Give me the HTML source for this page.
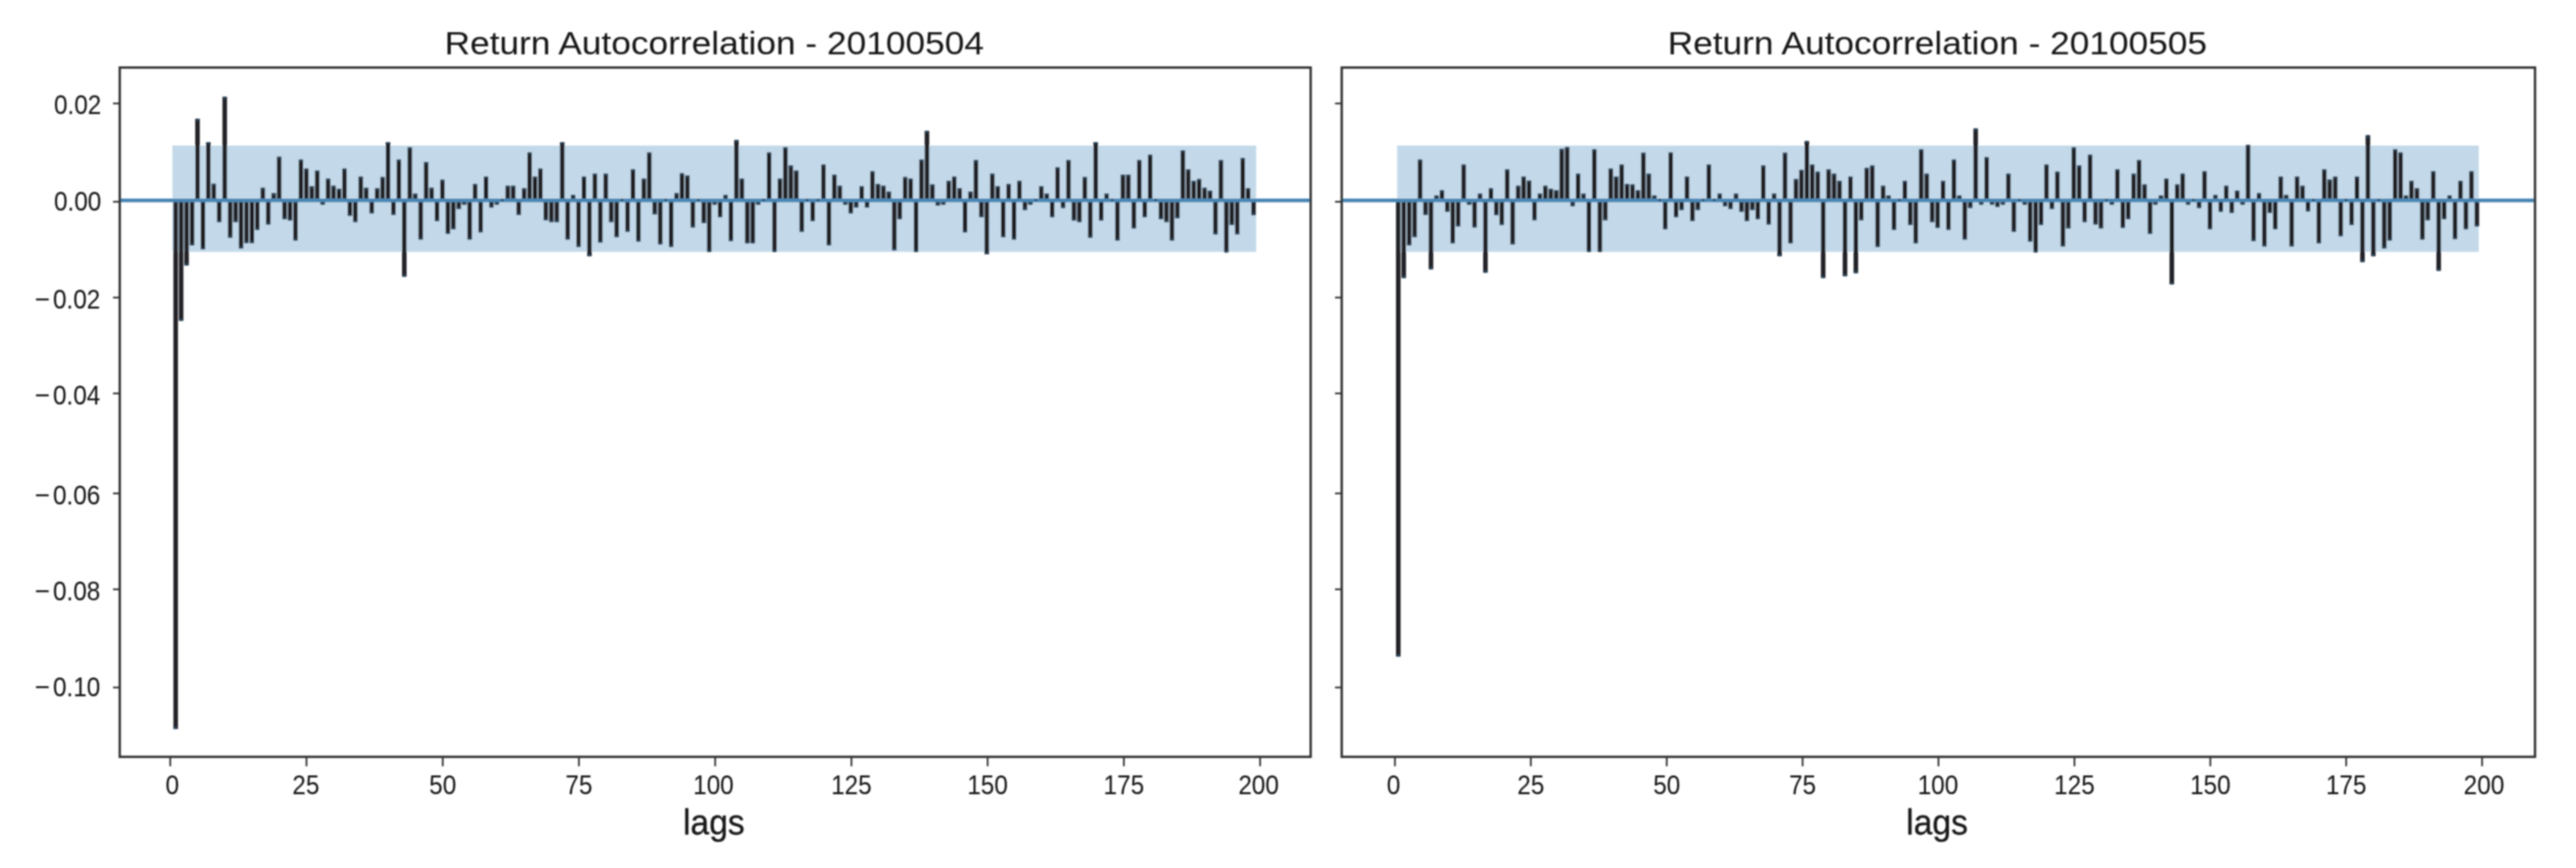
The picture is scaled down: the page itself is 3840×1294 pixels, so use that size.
<!DOCTYPE html><html><head><meta charset="utf-8"><style>html,body{margin:0;padding:0;background:#fff;}svg{display:block;}</style></head><body>
<svg width="3840" height="1294" viewBox="0 0 3840 1294" font-family='"Liberation Sans", sans-serif'>
<rect x="0" y="0" width="3840" height="1294" fill="#fff"/>
<defs><filter id="bl" x="-1%" y="-1%" width="102%" height="102%"><feGaussianBlur stdDeviation="1.2"/></filter></defs>
<g filter="url(#bl)">
<rect x="257.0" y="217.0" width="1615.5" height="158.5" fill="#c3d9ea"/>
<path d="M261.9 298.7V1086.7M270.0 298.7V478.3M278.1 298.7V395.7M286.3 298.7V366.0M294.4 298.7V176.9M302.5 298.7V371.8M310.6 298.7V211.9M318.7 298.7V273.7M326.8 298.7V331.3M335.0 298.7V144.3M343.1 298.7V354.4M351.2 298.7V331.3M359.3 298.7V370.4M367.4 298.7V362.4M375.5 298.7V362.4M383.6 298.7V342.9M391.8 298.7V279.7M399.9 298.7V334.9M408.0 298.7V287.7M416.1 298.7V233.4M424.2 298.7V326.9M432.3 298.7V329.1M440.4 298.7V358.8M448.6 298.7V237.7M456.7 298.7V251.1M464.8 298.7V277.6M472.9 298.7V254.0M481.0 298.7V305.2M489.1 298.7V266.0M497.2 298.7V276.8M505.4 298.7V281.2M513.5 298.7V251.1M521.6 298.7V321.9M529.7 298.7V331.3M537.8 298.7V263.1M545.9 298.7V279.7M554.1 298.7V318.2M562.2 298.7V280.5M570.3 298.7V263.8M578.4 298.7V211.9M586.5 298.7V320.4M594.6 298.7V237.7M602.7 298.7V412.4M610.9 298.7V219.6M619.0 298.7V288.4M627.1 298.7V357.3M635.2 298.7V241.4M643.3 298.7V279.7M651.4 298.7V329.8M659.5 298.7V267.8M667.7 298.7V348.7M675.8 298.7V342.1M683.9 298.7V311.7M692.0 298.7V305.2M700.1 298.7V357.3M708.2 298.7V273.9M716.4 298.7V346.5M724.5 298.7V263.1M732.6 298.7V309.5M740.7 298.7V305.2M748.8 298.7V296.4M756.9 298.7V276.8M765.0 298.7V276.8M773.2 298.7V320.4M781.3 298.7V280.5M789.4 298.7V226.9M797.5 298.7V263.1M805.6 298.7V251.1M813.7 298.7V328.4M821.9 298.7V331.3M830.0 298.7V331.3M838.1 298.7V211.9M846.2 298.7V357.3M854.3 298.7V290.6M862.4 298.7V368.2M870.5 298.7V263.1M878.7 298.7V382.0M886.8 298.7V258.7M894.9 298.7V361.7M903.0 298.7V258.7M911.1 298.7V331.3M919.2 298.7V353.7M927.3 298.7V296.4M935.5 298.7V345.8M943.6 298.7V252.2M951.7 298.7V360.2M959.8 298.7V266.0M967.9 298.7V226.9M976.0 298.7V319.7M984.2 298.7V364.6M992.3 298.7V296.4M1000.4 298.7V368.2M1008.5 298.7V287.7M1016.6 298.7V258.0M1024.7 298.7V261.6M1032.8 298.7V339.2M1041.0 298.7V296.4M1049.1 298.7V332.7M1057.2 298.7V375.5M1065.3 298.7V305.2M1073.4 298.7V324.0M1081.5 298.7V290.6M1089.6 298.7V359.5M1097.8 298.7V208.8M1105.9 298.7V266.0M1114.0 298.7V363.1M1122.1 298.7V363.1M1130.2 298.7V305.2M1138.3 298.7V296.4M1146.5 298.7V226.9M1154.6 298.7V375.5M1162.7 298.7V266.0M1170.8 298.7V219.6M1178.9 298.7V246.4M1187.0 298.7V254.0M1195.1 298.7V345.8M1203.3 298.7V296.4M1211.4 298.7V329.8M1219.5 298.7V296.4M1227.6 298.7V245.0M1235.7 298.7V366.0M1243.8 298.7V260.2M1251.9 298.7V276.8M1260.1 298.7V305.2M1268.2 298.7V318.2M1276.3 298.7V309.5M1284.4 298.7V277.6M1292.5 298.7V309.5M1300.6 298.7V255.1M1308.8 298.7V273.9M1316.9 298.7V276.8M1325.0 298.7V285.5M1333.1 298.7V373.3M1341.2 298.7V326.9M1349.3 298.7V263.8M1357.4 298.7V266.0M1365.6 298.7V375.5M1373.7 298.7V237.7M1381.8 298.7V195.0M1389.9 298.7V274.7M1398.0 298.7V306.6M1406.1 298.7V305.2M1414.2 298.7V269.6M1422.4 298.7V263.1M1430.5 298.7V280.5M1438.6 298.7V346.5M1446.7 298.7V285.5M1454.8 298.7V238.5M1462.9 298.7V324.0M1471.0 298.7V379.1M1479.2 298.7V258.7M1487.3 298.7V277.6M1495.4 298.7V353.7M1503.5 298.7V273.9M1511.6 298.7V357.3M1519.7 298.7V269.6M1527.9 298.7V313.2M1536.0 298.7V305.2M1544.1 298.7V296.4M1552.2 298.7V277.6M1560.3 298.7V288.4M1568.4 298.7V324.0M1576.5 298.7V249.3M1584.7 298.7V310.3M1592.8 298.7V238.5M1600.9 298.7V329.1M1609.0 298.7V331.3M1617.1 298.7V263.8M1625.2 298.7V354.4M1633.3 298.7V211.9M1641.5 298.7V329.1M1649.6 298.7V288.4M1657.7 298.7V296.4M1665.8 298.7V358.8M1673.9 298.7V260.2M1682.0 298.7V260.2M1690.2 298.7V340.7M1698.3 298.7V238.5M1706.4 298.7V324.0M1714.5 298.7V230.5M1722.6 298.7V296.4M1730.7 298.7V326.9M1738.8 298.7V331.3M1747.0 298.7V358.8M1755.1 298.7V325.5M1763.2 298.7V224.0M1771.3 298.7V252.2M1779.4 298.7V269.6M1787.5 298.7V266.7M1795.7 298.7V279.7M1803.8 298.7V284.1M1811.9 298.7V349.4M1820.0 298.7V238.5M1828.1 298.7V376.2M1836.2 298.7V335.6M1844.3 298.7V349.4M1852.5 298.7V235.6M1860.6 298.7V280.5M1868.7 298.7V321.1" stroke="#202428" stroke-width="6.8" fill="none"/>
<line x1="178.5" y1="298.7" x2="1953.8" y2="298.7" stroke="#4a86b4" stroke-width="5.5"/>
<g fill="#2a4a62"><circle cx="261.9" cy="1085.2" r="2.0"/><circle cx="270.0" cy="476.8" r="2.0"/><circle cx="278.1" cy="394.2" r="2.0"/><circle cx="286.3" cy="364.5" r="2.0"/><circle cx="294.4" cy="178.4" r="2.0"/><circle cx="302.5" cy="370.3" r="2.0"/><circle cx="310.6" cy="213.4" r="2.0"/><circle cx="318.7" cy="275.2" r="2.0"/><circle cx="326.8" cy="329.8" r="2.0"/><circle cx="335.0" cy="145.8" r="2.0"/><circle cx="343.1" cy="352.9" r="2.0"/><circle cx="351.2" cy="329.8" r="2.0"/><circle cx="359.3" cy="368.9" r="2.0"/><circle cx="367.4" cy="360.9" r="2.0"/><circle cx="375.5" cy="360.9" r="2.0"/><circle cx="383.6" cy="341.4" r="2.0"/><circle cx="391.8" cy="281.2" r="2.0"/><circle cx="399.9" cy="333.4" r="2.0"/><circle cx="408.0" cy="289.2" r="2.0"/><circle cx="416.1" cy="234.9" r="2.0"/><circle cx="424.2" cy="325.4" r="2.0"/><circle cx="432.3" cy="327.6" r="2.0"/><circle cx="440.4" cy="357.3" r="2.0"/><circle cx="448.6" cy="239.2" r="2.0"/><circle cx="456.7" cy="252.6" r="2.0"/><circle cx="464.8" cy="279.1" r="2.0"/><circle cx="472.9" cy="255.5" r="2.0"/><circle cx="481.0" cy="303.7" r="2.0"/><circle cx="489.1" cy="267.5" r="2.0"/><circle cx="497.2" cy="278.3" r="2.0"/><circle cx="505.4" cy="282.7" r="2.0"/><circle cx="513.5" cy="252.6" r="2.0"/><circle cx="521.6" cy="320.4" r="2.0"/><circle cx="529.7" cy="329.8" r="2.0"/><circle cx="537.8" cy="264.6" r="2.0"/><circle cx="545.9" cy="281.2" r="2.0"/><circle cx="554.1" cy="316.7" r="2.0"/><circle cx="562.2" cy="282.0" r="2.0"/><circle cx="570.3" cy="265.3" r="2.0"/><circle cx="578.4" cy="213.4" r="2.0"/><circle cx="586.5" cy="318.9" r="2.0"/><circle cx="594.6" cy="239.2" r="2.0"/><circle cx="602.7" cy="410.9" r="2.0"/><circle cx="610.9" cy="221.1" r="2.0"/><circle cx="619.0" cy="289.9" r="2.0"/><circle cx="627.1" cy="355.8" r="2.0"/><circle cx="635.2" cy="242.9" r="2.0"/><circle cx="643.3" cy="281.2" r="2.0"/><circle cx="651.4" cy="328.3" r="2.0"/><circle cx="659.5" cy="269.3" r="2.0"/><circle cx="667.7" cy="347.2" r="2.0"/><circle cx="675.8" cy="340.6" r="2.0"/><circle cx="683.9" cy="310.2" r="2.0"/><circle cx="692.0" cy="303.7" r="2.0"/><circle cx="700.1" cy="355.8" r="2.0"/><circle cx="708.2" cy="275.4" r="2.0"/><circle cx="716.4" cy="345.0" r="2.0"/><circle cx="724.5" cy="264.6" r="2.0"/><circle cx="732.6" cy="308.0" r="2.0"/><circle cx="740.7" cy="303.7" r="2.0"/><circle cx="748.8" cy="297.9" r="2.0"/><circle cx="756.9" cy="278.3" r="2.0"/><circle cx="765.0" cy="278.3" r="2.0"/><circle cx="773.2" cy="318.9" r="2.0"/><circle cx="781.3" cy="282.0" r="2.0"/><circle cx="789.4" cy="228.4" r="2.0"/><circle cx="797.5" cy="264.6" r="2.0"/><circle cx="805.6" cy="252.6" r="2.0"/><circle cx="813.7" cy="326.9" r="2.0"/><circle cx="821.9" cy="329.8" r="2.0"/><circle cx="830.0" cy="329.8" r="2.0"/><circle cx="838.1" cy="213.4" r="2.0"/><circle cx="846.2" cy="355.8" r="2.0"/><circle cx="854.3" cy="292.1" r="2.0"/><circle cx="862.4" cy="366.7" r="2.0"/><circle cx="870.5" cy="264.6" r="2.0"/><circle cx="878.7" cy="380.5" r="2.0"/><circle cx="886.8" cy="260.2" r="2.0"/><circle cx="894.9" cy="360.2" r="2.0"/><circle cx="903.0" cy="260.2" r="2.0"/><circle cx="911.1" cy="329.8" r="2.0"/><circle cx="919.2" cy="352.2" r="2.0"/><circle cx="927.3" cy="297.9" r="2.0"/><circle cx="935.5" cy="344.3" r="2.0"/><circle cx="943.6" cy="253.7" r="2.0"/><circle cx="951.7" cy="358.7" r="2.0"/><circle cx="959.8" cy="267.5" r="2.0"/><circle cx="967.9" cy="228.4" r="2.0"/><circle cx="976.0" cy="318.2" r="2.0"/><circle cx="984.2" cy="363.1" r="2.0"/><circle cx="992.3" cy="297.9" r="2.0"/><circle cx="1000.4" cy="366.7" r="2.0"/><circle cx="1008.5" cy="289.2" r="2.0"/><circle cx="1016.6" cy="259.5" r="2.0"/><circle cx="1024.7" cy="263.1" r="2.0"/><circle cx="1032.8" cy="337.7" r="2.0"/><circle cx="1041.0" cy="297.9" r="2.0"/><circle cx="1049.1" cy="331.2" r="2.0"/><circle cx="1057.2" cy="374.0" r="2.0"/><circle cx="1065.3" cy="303.7" r="2.0"/><circle cx="1073.4" cy="322.5" r="2.0"/><circle cx="1081.5" cy="292.1" r="2.0"/><circle cx="1089.6" cy="358.0" r="2.0"/><circle cx="1097.8" cy="210.3" r="2.0"/><circle cx="1105.9" cy="267.5" r="2.0"/><circle cx="1114.0" cy="361.6" r="2.0"/><circle cx="1122.1" cy="361.6" r="2.0"/><circle cx="1130.2" cy="303.7" r="2.0"/><circle cx="1138.3" cy="297.9" r="2.0"/><circle cx="1146.5" cy="228.4" r="2.0"/><circle cx="1154.6" cy="374.0" r="2.0"/><circle cx="1162.7" cy="267.5" r="2.0"/><circle cx="1170.8" cy="221.1" r="2.0"/><circle cx="1178.9" cy="247.9" r="2.0"/><circle cx="1187.0" cy="255.5" r="2.0"/><circle cx="1195.1" cy="344.3" r="2.0"/><circle cx="1203.3" cy="297.9" r="2.0"/><circle cx="1211.4" cy="328.3" r="2.0"/><circle cx="1219.5" cy="297.9" r="2.0"/><circle cx="1227.6" cy="246.5" r="2.0"/><circle cx="1235.7" cy="364.5" r="2.0"/><circle cx="1243.8" cy="261.7" r="2.0"/><circle cx="1251.9" cy="278.3" r="2.0"/><circle cx="1260.1" cy="303.7" r="2.0"/><circle cx="1268.2" cy="316.7" r="2.0"/><circle cx="1276.3" cy="308.0" r="2.0"/><circle cx="1284.4" cy="279.1" r="2.0"/><circle cx="1292.5" cy="308.0" r="2.0"/><circle cx="1300.6" cy="256.6" r="2.0"/><circle cx="1308.8" cy="275.4" r="2.0"/><circle cx="1316.9" cy="278.3" r="2.0"/><circle cx="1325.0" cy="287.0" r="2.0"/><circle cx="1333.1" cy="371.8" r="2.0"/><circle cx="1341.2" cy="325.4" r="2.0"/><circle cx="1349.3" cy="265.3" r="2.0"/><circle cx="1357.4" cy="267.5" r="2.0"/><circle cx="1365.6" cy="374.0" r="2.0"/><circle cx="1373.7" cy="239.2" r="2.0"/><circle cx="1381.8" cy="196.5" r="2.0"/><circle cx="1389.9" cy="276.2" r="2.0"/><circle cx="1398.0" cy="305.1" r="2.0"/><circle cx="1406.1" cy="303.7" r="2.0"/><circle cx="1414.2" cy="271.1" r="2.0"/><circle cx="1422.4" cy="264.6" r="2.0"/><circle cx="1430.5" cy="282.0" r="2.0"/><circle cx="1438.6" cy="345.0" r="2.0"/><circle cx="1446.7" cy="287.0" r="2.0"/><circle cx="1454.8" cy="240.0" r="2.0"/><circle cx="1462.9" cy="322.5" r="2.0"/><circle cx="1471.0" cy="377.6" r="2.0"/><circle cx="1479.2" cy="260.2" r="2.0"/><circle cx="1487.3" cy="279.1" r="2.0"/><circle cx="1495.4" cy="352.2" r="2.0"/><circle cx="1503.5" cy="275.4" r="2.0"/><circle cx="1511.6" cy="355.8" r="2.0"/><circle cx="1519.7" cy="271.1" r="2.0"/><circle cx="1527.9" cy="311.7" r="2.0"/><circle cx="1536.0" cy="303.7" r="2.0"/><circle cx="1544.1" cy="297.9" r="2.0"/><circle cx="1552.2" cy="279.1" r="2.0"/><circle cx="1560.3" cy="289.9" r="2.0"/><circle cx="1568.4" cy="322.5" r="2.0"/><circle cx="1576.5" cy="250.8" r="2.0"/><circle cx="1584.7" cy="308.8" r="2.0"/><circle cx="1592.8" cy="240.0" r="2.0"/><circle cx="1600.9" cy="327.6" r="2.0"/><circle cx="1609.0" cy="329.8" r="2.0"/><circle cx="1617.1" cy="265.3" r="2.0"/><circle cx="1625.2" cy="352.9" r="2.0"/><circle cx="1633.3" cy="213.4" r="2.0"/><circle cx="1641.5" cy="327.6" r="2.0"/><circle cx="1649.6" cy="289.9" r="2.0"/><circle cx="1657.7" cy="297.9" r="2.0"/><circle cx="1665.8" cy="357.3" r="2.0"/><circle cx="1673.9" cy="261.7" r="2.0"/><circle cx="1682.0" cy="261.7" r="2.0"/><circle cx="1690.2" cy="339.2" r="2.0"/><circle cx="1698.3" cy="240.0" r="2.0"/><circle cx="1706.4" cy="322.5" r="2.0"/><circle cx="1714.5" cy="232.0" r="2.0"/><circle cx="1722.6" cy="297.9" r="2.0"/><circle cx="1730.7" cy="325.4" r="2.0"/><circle cx="1738.8" cy="329.8" r="2.0"/><circle cx="1747.0" cy="357.3" r="2.0"/><circle cx="1755.1" cy="324.0" r="2.0"/><circle cx="1763.2" cy="225.5" r="2.0"/><circle cx="1771.3" cy="253.7" r="2.0"/><circle cx="1779.4" cy="271.1" r="2.0"/><circle cx="1787.5" cy="268.2" r="2.0"/><circle cx="1795.7" cy="281.2" r="2.0"/><circle cx="1803.8" cy="285.6" r="2.0"/><circle cx="1811.9" cy="347.9" r="2.0"/><circle cx="1820.0" cy="240.0" r="2.0"/><circle cx="1828.1" cy="374.7" r="2.0"/><circle cx="1836.2" cy="334.1" r="2.0"/><circle cx="1844.3" cy="347.9" r="2.0"/><circle cx="1852.5" cy="237.1" r="2.0"/><circle cx="1860.6" cy="282.0" r="2.0"/><circle cx="1868.7" cy="319.6" r="2.0"/></g>
<rect x="178.5" y="100.7" width="1775.3" height="1027.6" fill="none" stroke="#333333" stroke-width="3.5"/>
<line x1="253.8" y1="1128.3" x2="253.8" y2="1142.3" stroke="#333333" stroke-width="2.6"/>
<text transform="translate(256.8,1183.5) scale(0.885,1)" font-size="41" text-anchor="middle" fill="#141414" stroke="#141414" stroke-width="0">0</text>
<line x1="456.9" y1="1128.3" x2="456.9" y2="1142.3" stroke="#333333" stroke-width="2.6"/>
<text transform="translate(455.9,1183.5) scale(0.885,1)" font-size="41" text-anchor="middle" fill="#141414" stroke="#141414" stroke-width="0">25</text>
<line x1="660.0" y1="1128.3" x2="660.0" y2="1142.3" stroke="#333333" stroke-width="2.6"/>
<text transform="translate(660.0,1183.5) scale(0.885,1)" font-size="41" text-anchor="middle" fill="#141414" stroke="#141414" stroke-width="0">50</text>
<line x1="863.0" y1="1128.3" x2="863.0" y2="1142.3" stroke="#333333" stroke-width="2.6"/>
<text transform="translate(863.0,1183.5) scale(0.885,1)" font-size="41" text-anchor="middle" fill="#141414" stroke="#141414" stroke-width="0">75</text>
<line x1="1066.1" y1="1128.3" x2="1066.1" y2="1142.3" stroke="#333333" stroke-width="2.6"/>
<text transform="translate(1063.5,1183.5) scale(0.885,1)" font-size="41" text-anchor="middle" fill="#141414" stroke="#141414" stroke-width="0">100</text>
<line x1="1269.2" y1="1128.3" x2="1269.2" y2="1142.3" stroke="#333333" stroke-width="2.6"/>
<text transform="translate(1269.2,1183.5) scale(0.885,1)" font-size="41" text-anchor="middle" fill="#141414" stroke="#141414" stroke-width="0">125</text>
<line x1="1472.2" y1="1128.3" x2="1472.2" y2="1142.3" stroke="#333333" stroke-width="2.6"/>
<text transform="translate(1472.2,1183.5) scale(0.885,1)" font-size="41" text-anchor="middle" fill="#141414" stroke="#141414" stroke-width="0">150</text>
<line x1="1675.3" y1="1128.3" x2="1675.3" y2="1142.3" stroke="#333333" stroke-width="2.6"/>
<text transform="translate(1675.3,1183.5) scale(0.885,1)" font-size="41" text-anchor="middle" fill="#141414" stroke="#141414" stroke-width="0">175</text>
<line x1="1878.4" y1="1128.3" x2="1878.4" y2="1142.3" stroke="#333333" stroke-width="2.6"/>
<text transform="translate(1876.2,1183.5) scale(0.885,1)" font-size="41" text-anchor="middle" fill="#141414" stroke="#141414" stroke-width="0">200</text>
<line x1="168.5" y1="154.2" x2="178.5" y2="154.2" stroke="#333333" stroke-width="2.6"/>
<text transform="translate(151,170.1) scale(0.885,1)" font-size="41" text-anchor="end" fill="#141414" stroke="#141414" stroke-width="0">0.02</text>
<line x1="168.5" y1="300.8" x2="178.5" y2="300.8" stroke="#333333" stroke-width="2.6"/>
<text transform="translate(151,313.5) scale(0.885,1)" font-size="41" text-anchor="end" fill="#141414" stroke="#141414" stroke-width="0">0.00</text>
<line x1="168.5" y1="443.6" x2="178.5" y2="443.6" stroke="#333333" stroke-width="2.6"/>
<text transform="translate(149.5,460.0) scale(0.885,1)" font-size="41" text-anchor="end" fill="#141414" stroke="#141414" stroke-width="0">0.02</text>
<text transform="translate(74.5,460.0) scale(0.95,1)" font-size="41" text-anchor="end" fill="#141414" stroke="#141414" stroke-width="0">−</text>
<line x1="168.5" y1="586.5" x2="178.5" y2="586.5" stroke="#333333" stroke-width="2.6"/>
<text transform="translate(149.5,603.3) scale(0.885,1)" font-size="41" text-anchor="end" fill="#141414" stroke="#141414" stroke-width="0">0.04</text>
<text transform="translate(74.5,603.3) scale(0.95,1)" font-size="41" text-anchor="end" fill="#141414" stroke="#141414" stroke-width="0">−</text>
<line x1="168.5" y1="735.6" x2="178.5" y2="735.6" stroke="#333333" stroke-width="2.6"/>
<text transform="translate(149.5,751.9) scale(0.885,1)" font-size="41" text-anchor="end" fill="#141414" stroke="#141414" stroke-width="0">0.06</text>
<text transform="translate(74.5,751.9) scale(0.95,1)" font-size="41" text-anchor="end" fill="#141414" stroke="#141414" stroke-width="0">−</text>
<line x1="168.5" y1="878.6" x2="178.5" y2="878.6" stroke="#333333" stroke-width="2.6"/>
<text transform="translate(149.5,895.0) scale(0.885,1)" font-size="41" text-anchor="end" fill="#141414" stroke="#141414" stroke-width="0">0.08</text>
<text transform="translate(74.5,895.0) scale(0.95,1)" font-size="41" text-anchor="end" fill="#141414" stroke="#141414" stroke-width="0">−</text>
<line x1="168.5" y1="1024.9" x2="178.5" y2="1024.9" stroke="#333333" stroke-width="2.6"/>
<text transform="translate(149.5,1038.0) scale(0.885,1)" font-size="41" text-anchor="end" fill="#141414" stroke="#141414" stroke-width="0">0.10</text>
<text transform="translate(74.5,1038.0) scale(0.95,1)" font-size="41" text-anchor="end" fill="#141414" stroke="#141414" stroke-width="0">−</text>
<text x="1064.7" y="80.8" font-size="48" text-anchor="middle" fill="#141414" stroke="#141414" stroke-width="0" textLength="804" lengthAdjust="spacingAndGlyphs">Return Autocorrelation - 20100504</text>
<text x="1064.2" y="1244" font-size="53" text-anchor="middle" fill="#141414" stroke="#141414" stroke-width="0.4" textLength="92" lengthAdjust="spacingAndGlyphs">lags</text>
<rect x="2082.7" y="217.0" width="1612.3" height="158.5" fill="#c3d9ea"/>
<path d="M2084.4 298.7V978.8M2092.5 298.7V414.6M2100.7 298.7V366.0M2108.8 298.7V353.7M2116.9 298.7V237.7M2125.0 298.7V320.4M2133.1 298.7V401.5M2141.3 298.7V291.3M2149.4 298.7V283.4M2157.5 298.7V316.1M2165.6 298.7V363.1M2173.7 298.7V337.8M2181.9 298.7V245.0M2190.0 298.7V305.2M2198.1 298.7V339.2M2206.2 298.7V288.4M2214.3 298.7V406.6M2222.5 298.7V280.5M2230.6 298.7V321.1M2238.7 298.7V335.6M2246.8 298.7V252.2M2254.9 298.7V364.6M2263.1 298.7V276.8M2271.2 298.7V263.1M2279.3 298.7V268.9M2287.4 298.7V328.4M2295.5 298.7V288.4M2303.7 298.7V276.8M2311.8 298.7V281.2M2319.9 298.7V283.4M2328.0 298.7V221.8M2336.1 298.7V218.9M2344.3 298.7V307.4M2352.4 298.7V258.7M2360.5 298.7V288.4M2368.6 298.7V375.5M2376.7 298.7V222.5M2384.9 298.7V375.5M2393.0 298.7V328.4M2401.1 298.7V251.1M2409.2 298.7V263.1M2417.3 298.7V245.0M2425.5 298.7V273.9M2433.6 298.7V274.7M2441.7 298.7V283.4M2449.8 298.7V227.6M2457.9 298.7V258.7M2466.1 298.7V291.3M2474.2 298.7V296.4M2482.3 298.7V342.1M2490.4 298.7V226.9M2498.5 298.7V324.0M2506.7 298.7V313.2M2514.8 298.7V263.1M2522.9 298.7V329.8M2531.0 298.7V313.2M2539.1 298.7V296.4M2547.3 298.7V245.0M2555.4 298.7V296.4M2563.5 298.7V288.4M2571.6 298.7V307.4M2579.7 298.7V311.7M2587.9 298.7V288.4M2596.0 298.7V316.1M2604.1 298.7V329.8M2612.2 298.7V313.2M2620.3 298.7V326.9M2628.5 298.7V246.4M2636.6 298.7V334.9M2644.7 298.7V288.4M2652.8 298.7V382.0M2660.9 298.7V227.6M2669.1 298.7V363.1M2677.2 298.7V266.7M2685.3 298.7V252.9M2693.4 298.7V210.2M2701.5 298.7V245.0M2709.7 298.7V255.8M2717.8 298.7V414.6M2725.9 298.7V252.2M2734.0 298.7V258.7M2742.1 298.7V269.6M2750.3 298.7V411.7M2758.4 298.7V263.1M2766.5 298.7V407.3M2774.6 298.7V328.4M2782.7 298.7V250.0M2790.9 298.7V246.4M2799.0 298.7V368.2M2807.1 298.7V276.8M2815.2 298.7V291.3M2823.3 298.7V342.9M2831.5 298.7V296.4M2839.6 298.7V269.6M2847.7 298.7V335.6M2855.8 298.7V363.1M2863.9 298.7V222.5M2872.1 298.7V258.7M2880.2 298.7V331.3M2888.3 298.7V340.0M2896.4 298.7V269.6M2904.5 298.7V342.9M2912.7 298.7V237.7M2920.8 298.7V291.3M2928.9 298.7V357.3M2937.0 298.7V310.3M2945.1 298.7V191.4M2953.3 298.7V305.2M2961.4 298.7V234.1M2969.5 298.7V305.2M2977.6 298.7V308.8M2985.7 298.7V305.2M2993.9 298.7V258.7M3002.0 298.7V345.8M3010.1 298.7V296.4M3018.2 298.7V305.2M3026.3 298.7V360.2M3034.5 298.7V376.2M3042.6 298.7V335.6M3050.7 298.7V245.0M3058.8 298.7V311.7M3066.9 298.7V255.8M3075.1 298.7V367.5M3083.2 298.7V340.7M3091.3 298.7V219.6M3099.4 298.7V246.4M3107.5 298.7V331.3M3115.7 298.7V230.5M3123.8 298.7V334.9M3131.9 298.7V340.7M3140.0 298.7V296.4M3148.1 298.7V305.2M3156.3 298.7V252.2M3164.4 298.7V340.0M3172.5 298.7V326.9M3180.6 298.7V258.7M3188.7 298.7V238.5M3196.9 298.7V274.7M3205.0 298.7V348.7M3213.1 298.7V305.2M3221.2 298.7V291.3M3229.3 298.7V266.0M3237.5 298.7V424.0M3245.6 298.7V274.7M3253.7 298.7V258.7M3261.8 298.7V305.2M3269.9 298.7V296.4M3278.1 298.7V310.3M3286.2 298.7V255.1M3294.3 298.7V342.1M3302.4 298.7V290.6M3310.5 298.7V316.1M3318.7 298.7V276.8M3326.8 298.7V317.5M3334.9 298.7V284.1M3343.0 298.7V305.2M3351.1 298.7V216.0M3359.3 298.7V359.5M3367.4 298.7V287.7M3375.5 298.7V367.5M3383.6 298.7V317.5M3391.7 298.7V342.1M3399.9 298.7V263.1M3408.0 298.7V290.6M3416.1 298.7V367.5M3424.2 298.7V263.1M3432.3 298.7V276.8M3440.5 298.7V315.3M3448.6 298.7V296.4M3456.7 298.7V363.1M3464.8 298.7V252.2M3472.9 298.7V267.4M3481.1 298.7V263.1M3489.2 298.7V352.3M3497.3 298.7V296.4M3505.4 298.7V335.6M3513.5 298.7V263.1M3521.7 298.7V390.7M3529.8 298.7V201.5M3537.9 298.7V382.0M3546.0 298.7V296.4M3554.1 298.7V370.4M3562.3 298.7V358.8M3570.4 298.7V222.5M3578.5 298.7V226.9M3586.6 298.7V291.3M3594.7 298.7V269.6M3602.9 298.7V280.5M3611.0 298.7V357.3M3619.1 298.7V328.4M3627.2 298.7V255.1M3635.3 298.7V403.7M3643.5 298.7V326.9M3651.6 298.7V291.3M3659.7 298.7V356.6M3667.8 298.7V269.6M3675.9 298.7V342.1M3684.1 298.7V255.1M3692.2 298.7V337.8" stroke="#202428" stroke-width="6.8" fill="none"/>
<line x1="2000.1" y1="298.7" x2="3778.9" y2="298.7" stroke="#4a86b4" stroke-width="5.5"/>
<g fill="#2a4a62"><circle cx="2084.4" cy="977.3" r="2.0"/><circle cx="2092.5" cy="413.1" r="2.0"/><circle cx="2100.7" cy="364.5" r="2.0"/><circle cx="2108.8" cy="352.2" r="2.0"/><circle cx="2116.9" cy="239.2" r="2.0"/><circle cx="2125.0" cy="318.9" r="2.0"/><circle cx="2133.1" cy="400.0" r="2.0"/><circle cx="2141.3" cy="292.8" r="2.0"/><circle cx="2149.4" cy="284.9" r="2.0"/><circle cx="2157.5" cy="314.6" r="2.0"/><circle cx="2165.6" cy="361.6" r="2.0"/><circle cx="2173.7" cy="336.3" r="2.0"/><circle cx="2181.9" cy="246.5" r="2.0"/><circle cx="2190.0" cy="303.7" r="2.0"/><circle cx="2198.1" cy="337.7" r="2.0"/><circle cx="2206.2" cy="289.9" r="2.0"/><circle cx="2214.3" cy="405.1" r="2.0"/><circle cx="2222.5" cy="282.0" r="2.0"/><circle cx="2230.6" cy="319.6" r="2.0"/><circle cx="2238.7" cy="334.1" r="2.0"/><circle cx="2246.8" cy="253.7" r="2.0"/><circle cx="2254.9" cy="363.1" r="2.0"/><circle cx="2263.1" cy="278.3" r="2.0"/><circle cx="2271.2" cy="264.6" r="2.0"/><circle cx="2279.3" cy="270.4" r="2.0"/><circle cx="2287.4" cy="326.9" r="2.0"/><circle cx="2295.5" cy="289.9" r="2.0"/><circle cx="2303.7" cy="278.3" r="2.0"/><circle cx="2311.8" cy="282.7" r="2.0"/><circle cx="2319.9" cy="284.9" r="2.0"/><circle cx="2328.0" cy="223.3" r="2.0"/><circle cx="2336.1" cy="220.4" r="2.0"/><circle cx="2344.3" cy="305.9" r="2.0"/><circle cx="2352.4" cy="260.2" r="2.0"/><circle cx="2360.5" cy="289.9" r="2.0"/><circle cx="2368.6" cy="374.0" r="2.0"/><circle cx="2376.7" cy="224.0" r="2.0"/><circle cx="2384.9" cy="374.0" r="2.0"/><circle cx="2393.0" cy="326.9" r="2.0"/><circle cx="2401.1" cy="252.6" r="2.0"/><circle cx="2409.2" cy="264.6" r="2.0"/><circle cx="2417.3" cy="246.5" r="2.0"/><circle cx="2425.5" cy="275.4" r="2.0"/><circle cx="2433.6" cy="276.2" r="2.0"/><circle cx="2441.7" cy="284.9" r="2.0"/><circle cx="2449.8" cy="229.1" r="2.0"/><circle cx="2457.9" cy="260.2" r="2.0"/><circle cx="2466.1" cy="292.8" r="2.0"/><circle cx="2474.2" cy="297.9" r="2.0"/><circle cx="2482.3" cy="340.6" r="2.0"/><circle cx="2490.4" cy="228.4" r="2.0"/><circle cx="2498.5" cy="322.5" r="2.0"/><circle cx="2506.7" cy="311.7" r="2.0"/><circle cx="2514.8" cy="264.6" r="2.0"/><circle cx="2522.9" cy="328.3" r="2.0"/><circle cx="2531.0" cy="311.7" r="2.0"/><circle cx="2539.1" cy="297.9" r="2.0"/><circle cx="2547.3" cy="246.5" r="2.0"/><circle cx="2555.4" cy="297.9" r="2.0"/><circle cx="2563.5" cy="289.9" r="2.0"/><circle cx="2571.6" cy="305.9" r="2.0"/><circle cx="2579.7" cy="310.2" r="2.0"/><circle cx="2587.9" cy="289.9" r="2.0"/><circle cx="2596.0" cy="314.6" r="2.0"/><circle cx="2604.1" cy="328.3" r="2.0"/><circle cx="2612.2" cy="311.7" r="2.0"/><circle cx="2620.3" cy="325.4" r="2.0"/><circle cx="2628.5" cy="247.9" r="2.0"/><circle cx="2636.6" cy="333.4" r="2.0"/><circle cx="2644.7" cy="289.9" r="2.0"/><circle cx="2652.8" cy="380.5" r="2.0"/><circle cx="2660.9" cy="229.1" r="2.0"/><circle cx="2669.1" cy="361.6" r="2.0"/><circle cx="2677.2" cy="268.2" r="2.0"/><circle cx="2685.3" cy="254.4" r="2.0"/><circle cx="2693.4" cy="211.7" r="2.0"/><circle cx="2701.5" cy="246.5" r="2.0"/><circle cx="2709.7" cy="257.3" r="2.0"/><circle cx="2717.8" cy="413.1" r="2.0"/><circle cx="2725.9" cy="253.7" r="2.0"/><circle cx="2734.0" cy="260.2" r="2.0"/><circle cx="2742.1" cy="271.1" r="2.0"/><circle cx="2750.3" cy="410.2" r="2.0"/><circle cx="2758.4" cy="264.6" r="2.0"/><circle cx="2766.5" cy="405.8" r="2.0"/><circle cx="2774.6" cy="326.9" r="2.0"/><circle cx="2782.7" cy="251.5" r="2.0"/><circle cx="2790.9" cy="247.9" r="2.0"/><circle cx="2799.0" cy="366.7" r="2.0"/><circle cx="2807.1" cy="278.3" r="2.0"/><circle cx="2815.2" cy="292.8" r="2.0"/><circle cx="2823.3" cy="341.4" r="2.0"/><circle cx="2831.5" cy="297.9" r="2.0"/><circle cx="2839.6" cy="271.1" r="2.0"/><circle cx="2847.7" cy="334.1" r="2.0"/><circle cx="2855.8" cy="361.6" r="2.0"/><circle cx="2863.9" cy="224.0" r="2.0"/><circle cx="2872.1" cy="260.2" r="2.0"/><circle cx="2880.2" cy="329.8" r="2.0"/><circle cx="2888.3" cy="338.5" r="2.0"/><circle cx="2896.4" cy="271.1" r="2.0"/><circle cx="2904.5" cy="341.4" r="2.0"/><circle cx="2912.7" cy="239.2" r="2.0"/><circle cx="2920.8" cy="292.8" r="2.0"/><circle cx="2928.9" cy="355.8" r="2.0"/><circle cx="2937.0" cy="308.8" r="2.0"/><circle cx="2945.1" cy="192.9" r="2.0"/><circle cx="2953.3" cy="303.7" r="2.0"/><circle cx="2961.4" cy="235.6" r="2.0"/><circle cx="2969.5" cy="303.7" r="2.0"/><circle cx="2977.6" cy="307.3" r="2.0"/><circle cx="2985.7" cy="303.7" r="2.0"/><circle cx="2993.9" cy="260.2" r="2.0"/><circle cx="3002.0" cy="344.3" r="2.0"/><circle cx="3010.1" cy="297.9" r="2.0"/><circle cx="3018.2" cy="303.7" r="2.0"/><circle cx="3026.3" cy="358.7" r="2.0"/><circle cx="3034.5" cy="374.7" r="2.0"/><circle cx="3042.6" cy="334.1" r="2.0"/><circle cx="3050.7" cy="246.5" r="2.0"/><circle cx="3058.8" cy="310.2" r="2.0"/><circle cx="3066.9" cy="257.3" r="2.0"/><circle cx="3075.1" cy="366.0" r="2.0"/><circle cx="3083.2" cy="339.2" r="2.0"/><circle cx="3091.3" cy="221.1" r="2.0"/><circle cx="3099.4" cy="247.9" r="2.0"/><circle cx="3107.5" cy="329.8" r="2.0"/><circle cx="3115.7" cy="232.0" r="2.0"/><circle cx="3123.8" cy="333.4" r="2.0"/><circle cx="3131.9" cy="339.2" r="2.0"/><circle cx="3140.0" cy="297.9" r="2.0"/><circle cx="3148.1" cy="303.7" r="2.0"/><circle cx="3156.3" cy="253.7" r="2.0"/><circle cx="3164.4" cy="338.5" r="2.0"/><circle cx="3172.5" cy="325.4" r="2.0"/><circle cx="3180.6" cy="260.2" r="2.0"/><circle cx="3188.7" cy="240.0" r="2.0"/><circle cx="3196.9" cy="276.2" r="2.0"/><circle cx="3205.0" cy="347.2" r="2.0"/><circle cx="3213.1" cy="303.7" r="2.0"/><circle cx="3221.2" cy="292.8" r="2.0"/><circle cx="3229.3" cy="267.5" r="2.0"/><circle cx="3237.5" cy="422.5" r="2.0"/><circle cx="3245.6" cy="276.2" r="2.0"/><circle cx="3253.7" cy="260.2" r="2.0"/><circle cx="3261.8" cy="303.7" r="2.0"/><circle cx="3269.9" cy="297.9" r="2.0"/><circle cx="3278.1" cy="308.8" r="2.0"/><circle cx="3286.2" cy="256.6" r="2.0"/><circle cx="3294.3" cy="340.6" r="2.0"/><circle cx="3302.4" cy="292.1" r="2.0"/><circle cx="3310.5" cy="314.6" r="2.0"/><circle cx="3318.7" cy="278.3" r="2.0"/><circle cx="3326.8" cy="316.0" r="2.0"/><circle cx="3334.9" cy="285.6" r="2.0"/><circle cx="3343.0" cy="303.7" r="2.0"/><circle cx="3351.1" cy="217.5" r="2.0"/><circle cx="3359.3" cy="358.0" r="2.0"/><circle cx="3367.4" cy="289.2" r="2.0"/><circle cx="3375.5" cy="366.0" r="2.0"/><circle cx="3383.6" cy="316.0" r="2.0"/><circle cx="3391.7" cy="340.6" r="2.0"/><circle cx="3399.9" cy="264.6" r="2.0"/><circle cx="3408.0" cy="292.1" r="2.0"/><circle cx="3416.1" cy="366.0" r="2.0"/><circle cx="3424.2" cy="264.6" r="2.0"/><circle cx="3432.3" cy="278.3" r="2.0"/><circle cx="3440.5" cy="313.8" r="2.0"/><circle cx="3448.6" cy="297.9" r="2.0"/><circle cx="3456.7" cy="361.6" r="2.0"/><circle cx="3464.8" cy="253.7" r="2.0"/><circle cx="3472.9" cy="268.9" r="2.0"/><circle cx="3481.1" cy="264.6" r="2.0"/><circle cx="3489.2" cy="350.8" r="2.0"/><circle cx="3497.3" cy="297.9" r="2.0"/><circle cx="3505.4" cy="334.1" r="2.0"/><circle cx="3513.5" cy="264.6" r="2.0"/><circle cx="3521.7" cy="389.2" r="2.0"/><circle cx="3529.8" cy="203.0" r="2.0"/><circle cx="3537.9" cy="380.5" r="2.0"/><circle cx="3546.0" cy="297.9" r="2.0"/><circle cx="3554.1" cy="368.9" r="2.0"/><circle cx="3562.3" cy="357.3" r="2.0"/><circle cx="3570.4" cy="224.0" r="2.0"/><circle cx="3578.5" cy="228.4" r="2.0"/><circle cx="3586.6" cy="292.8" r="2.0"/><circle cx="3594.7" cy="271.1" r="2.0"/><circle cx="3602.9" cy="282.0" r="2.0"/><circle cx="3611.0" cy="355.8" r="2.0"/><circle cx="3619.1" cy="326.9" r="2.0"/><circle cx="3627.2" cy="256.6" r="2.0"/><circle cx="3635.3" cy="402.2" r="2.0"/><circle cx="3643.5" cy="325.4" r="2.0"/><circle cx="3651.6" cy="292.8" r="2.0"/><circle cx="3659.7" cy="355.1" r="2.0"/><circle cx="3667.8" cy="271.1" r="2.0"/><circle cx="3675.9" cy="340.6" r="2.0"/><circle cx="3684.1" cy="256.6" r="2.0"/><circle cx="3692.2" cy="336.3" r="2.0"/></g>
<rect x="2000.1" y="100.7" width="1778.8" height="1027.6" fill="none" stroke="#333333" stroke-width="3.5"/>
<line x1="2079.4" y1="1128.3" x2="2079.4" y2="1142.3" stroke="#333333" stroke-width="2.6"/>
<text transform="translate(2077.4,1183.5) scale(0.885,1)" font-size="41" text-anchor="middle" fill="#141414" stroke="#141414" stroke-width="0">0</text>
<line x1="2282.0" y1="1128.3" x2="2282.0" y2="1142.3" stroke="#333333" stroke-width="2.6"/>
<text transform="translate(2282.0,1183.5) scale(0.885,1)" font-size="41" text-anchor="middle" fill="#141414" stroke="#141414" stroke-width="0">25</text>
<line x1="2484.6" y1="1128.3" x2="2484.6" y2="1142.3" stroke="#333333" stroke-width="2.6"/>
<text transform="translate(2484.6,1183.5) scale(0.885,1)" font-size="41" text-anchor="middle" fill="#141414" stroke="#141414" stroke-width="0">50</text>
<line x1="2687.1" y1="1128.3" x2="2687.1" y2="1142.3" stroke="#333333" stroke-width="2.6"/>
<text transform="translate(2687.1,1183.5) scale(0.885,1)" font-size="41" text-anchor="middle" fill="#141414" stroke="#141414" stroke-width="0">75</text>
<line x1="2889.7" y1="1128.3" x2="2889.7" y2="1142.3" stroke="#333333" stroke-width="2.6"/>
<text transform="translate(2888.9,1183.5) scale(0.885,1)" font-size="41" text-anchor="middle" fill="#141414" stroke="#141414" stroke-width="0">100</text>
<line x1="3092.3" y1="1128.3" x2="3092.3" y2="1142.3" stroke="#333333" stroke-width="2.6"/>
<text transform="translate(3092.3,1183.5) scale(0.885,1)" font-size="41" text-anchor="middle" fill="#141414" stroke="#141414" stroke-width="0">125</text>
<line x1="3294.9" y1="1128.3" x2="3294.9" y2="1142.3" stroke="#333333" stroke-width="2.6"/>
<text transform="translate(3294.9,1183.5) scale(0.885,1)" font-size="41" text-anchor="middle" fill="#141414" stroke="#141414" stroke-width="0">150</text>
<line x1="3497.4" y1="1128.3" x2="3497.4" y2="1142.3" stroke="#333333" stroke-width="2.6"/>
<text transform="translate(3497.4,1183.5) scale(0.885,1)" font-size="41" text-anchor="middle" fill="#141414" stroke="#141414" stroke-width="0">175</text>
<line x1="3700.0" y1="1128.3" x2="3700.0" y2="1142.3" stroke="#333333" stroke-width="2.6"/>
<text transform="translate(3702.8,1183.5) scale(0.885,1)" font-size="41" text-anchor="middle" fill="#141414" stroke="#141414" stroke-width="0">200</text>
<line x1="1990.1" y1="154.2" x2="2000.1" y2="154.2" stroke="#333333" stroke-width="2.6"/>
<line x1="1990.1" y1="300.8" x2="2000.1" y2="300.8" stroke="#333333" stroke-width="2.6"/>
<line x1="1990.1" y1="443.6" x2="2000.1" y2="443.6" stroke="#333333" stroke-width="2.6"/>
<line x1="1990.1" y1="586.5" x2="2000.1" y2="586.5" stroke="#333333" stroke-width="2.6"/>
<line x1="1990.1" y1="735.6" x2="2000.1" y2="735.6" stroke="#333333" stroke-width="2.6"/>
<line x1="1990.1" y1="878.6" x2="2000.1" y2="878.6" stroke="#333333" stroke-width="2.6"/>
<line x1="1990.1" y1="1024.9" x2="2000.1" y2="1024.9" stroke="#333333" stroke-width="2.6"/>
<text x="2888.0" y="80.8" font-size="48" text-anchor="middle" fill="#141414" stroke="#141414" stroke-width="0" textLength="804" lengthAdjust="spacingAndGlyphs">Return Autocorrelation - 20100505</text>
<text x="2887.5" y="1244" font-size="53" text-anchor="middle" fill="#141414" stroke="#141414" stroke-width="0.4" textLength="92" lengthAdjust="spacingAndGlyphs">lags</text>
</g></svg></body></html>
